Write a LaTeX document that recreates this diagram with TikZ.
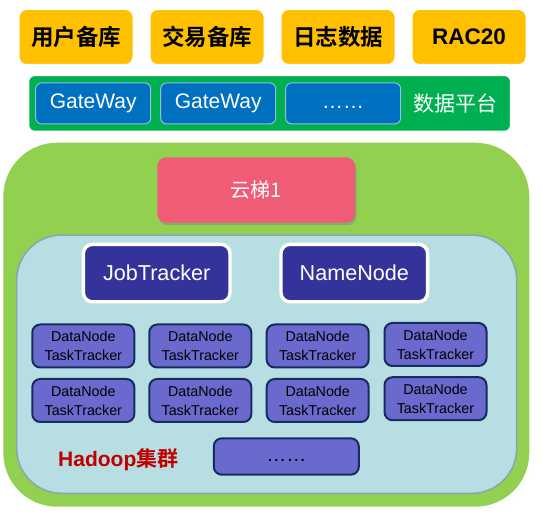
\documentclass[tikz,border=0pt]{standalone}
\usepackage{fontspec}
\setmainfont{Liberation Sans}
\newfontfamily\cjk{Noto Sans CJK SC}[BoldFont={Noto Sans CJK SC Bold}]
\usetikzlibrary{positioning, shadows}

\definecolor{gold}{RGB}{255,192,0}
\definecolor{platgreen}{RGB}{0,176,80}
\definecolor{gwblue}{RGB}{0,112,192}
\definecolor{gwedge}{RGB}{150,190,220}
\definecolor{cloudgreen}{RGB}{146,208,80}
\definecolor{ladderpink}{RGB}{240,91,118}
\definecolor{hadoopblue}{RGB}{183,222,226}
\definecolor{hadoopedge}{RGB}{140,164,176}
\definecolor{masterblue}{RGB}{51,51,153}
\definecolor{slaveblue}{RGB}{106,106,206}
\definecolor{slaveedge}{RGB}{22,44,94}
\definecolor{hadoopred}{RGB}{192,0,0}

\begin{document}
\begin{tikzpicture}[x=1pt, y=-1pt, on grid, inner sep=0pt,
  source/.style={rectangle, rounded corners=9pt, fill=gold, draw=white, line width=4pt,
    minimum width=117pt, minimum height=58pt, font=\fontsize{22.5}{26}\selectfont\bfseries,
    drop shadow={opacity=0.25, shadow xshift=0.5pt, shadow yshift=-1pt}},
  gateway/.style={rectangle, rounded corners=6pt, fill=gwblue, draw=gwedge, line width=1pt,
    minimum width=115pt, minimum height=41pt, text=white, font=\fontsize{21}{25}\selectfont},
  master/.style={rectangle, rounded corners=9pt, fill=masterblue, draw=white, line width=3.4pt,
    minimum width=146.6pt, minimum height=57.4pt, text=white, font=\fontsize{21.6}{25}\selectfont,
    drop shadow={opacity=0.25, shadow xshift=0.5pt, shadow yshift=-1pt}},
  slave/.style={rectangle, rounded corners=8pt, fill=slaveblue, draw=slaveedge, line width=2pt,
    minimum width=102pt, minimum height=43pt, align=center,
    font=\fontsize{14.3}{19}\selectfont}
]
  \useasboundingbox (0,0) rectangle (542,521);

  % sources
  \node[source] (user) at (76,37) {\cjk\bfseries 用户备库};
  \node[source] (trade) [right=131pt of user] {\cjk\bfseries 交易备库};
  \node[source] (log) [right=131pt of trade] {\cjk\bfseries 日志数据};
  \node[source] (rac) [right=131pt of log] {RAC20};

  % data platform
  \node[rectangle, rounded corners=7pt, fill=platgreen, draw=white, line width=3pt,
    minimum width=483.7pt, minimum height=57.7pt,
    drop shadow={opacity=0.2, shadow xshift=0.5pt, shadow yshift=-1pt}] (platform) at (269.6,103.4) {};
  \node[gateway] (gw1) at (93.2,103.4) {GateWay};
  \node[gateway] (gw2) [right=125pt of gw1] {GateWay};
  \node[gateway] (gw3) [right=125pt of gw2] {\vphantom{GateWay}……};
  \node[text=white, font=\fontsize{21}{25}\selectfont\cjk] (platlabel) at (455.7,104) {数据平台};

  % cloud ladder
  \node[rectangle, rounded corners=55pt, fill=cloudgreen, draw=white, line width=3pt,
    minimum width=529pt, minimum height=367pt,
    drop shadow={opacity=0.2, shadow xshift=0.5pt, shadow yshift=-1.5pt}] (cloud) at (266.3,324.7) {};
  \node[rectangle, rounded corners=9pt, fill=ladderpink, minimum width=197.7pt, minimum height=65.4pt,
    text=white, font=\fontsize{20}{24}\selectfont\cjk,
    drop shadow={opacity=0.45, shadow xshift=1.5pt, shadow yshift=-2.5pt}] (ladder) at (256.2,190) {云梯1};

  % hadoop cluster
  \node[rectangle, rounded corners=45pt, fill=hadoopblue, draw=hadoopedge, line width=1.5pt,
    minimum width=500pt, minimum height=258.3pt] (hadoop) at (266.7,364.2) {};
  \node[master] (jt) at (156.7,273.1) {JobTracker};
  \node[master] (nn) [right=197.6pt of jt] {NameNode};

  \node[slave] (dn11) at (83.3,346) {DataNode\\TaskTracker};
  \node[slave] (dn12) [right=117pt of dn11] {DataNode\\TaskTracker};
  \node[slave] (dn13) [right=117.4pt of dn12] {DataNode\\TaskTracker};
  \node[slave] (dn14) [right=117.8pt of dn13, yshift=1.5pt] {DataNode\\TaskTracker};
  \node[slave] (dn21) [below=54.5pt of dn11] {DataNode\\TaskTracker};
  \node[slave] (dn22) [below=54.5pt of dn12] {DataNode\\TaskTracker};
  \node[slave] (dn23) [below=54.5pt of dn13] {DataNode\\TaskTracker};
  \node[slave] (dn24) [below=54.2pt of dn14] {DataNode\\TaskTracker};
  \node[slave, minimum width=145pt, minimum height=36.4pt, font=\fontsize{20}{24}\selectfont] (more) at (286.3,456.5) {\vphantom{Gy}……};

  \node[text=hadoopred, font=\fontsize{21}{25}\selectfont\bfseries] (hlabel) at (118.3,459.3) {Hadoop{\cjk 集群}};
\end{tikzpicture}
\end{document}
